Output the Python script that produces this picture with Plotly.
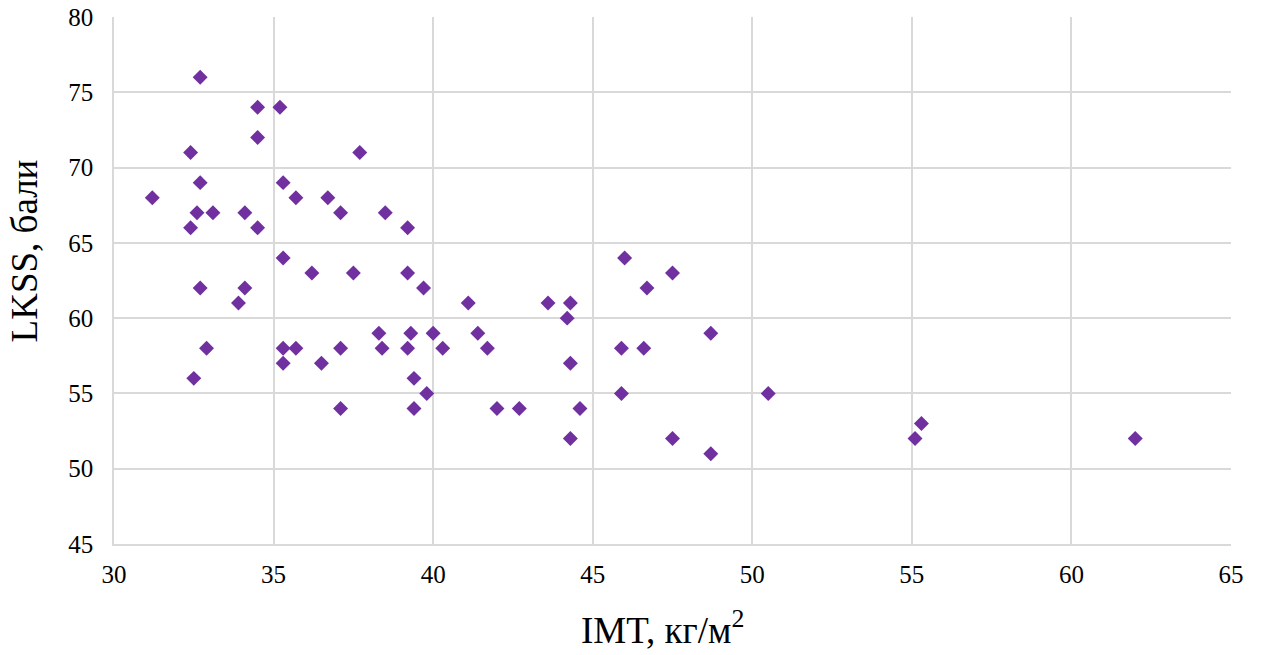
import plotly.graph_objects as go

# Body mass index (kg/m^2) and LKSS score for each patient
imt = [
    31.2, 32.4, 32.4, 32.6, 32.7, 32.7, 32.7, 32.5, 32.9, 33.1,
    33.9, 34.1, 34.1, 34.5, 34.5, 34.5, 35.2, 35.3, 35.3, 35.3,
    35.3, 35.7, 35.7, 36.2, 36.5, 36.7, 37.1, 37.1, 37.1, 37.5,
    37.7, 38.3, 38.4, 38.5, 39.2, 39.2, 39.2, 39.3, 39.4, 39.4,
    39.7, 39.8, 40.0, 40.3, 41.1, 41.4, 41.7, 42.0, 42.7, 43.6,
    44.3, 44.2, 44.3, 44.3, 44.6, 45.9, 45.9, 46.0, 46.6, 46.7,
    47.5, 47.5, 48.7, 48.7, 50.5, 55.1, 55.3, 62.0,
]
lkss = [
    68, 71, 66, 67, 76, 69, 62, 56, 58, 67,
    61, 67, 62, 74, 72, 66, 74, 69, 64, 58,
    57, 58, 68, 63, 57, 68, 67, 58, 54, 63,
    71, 59, 58, 67, 66, 63, 58, 59, 56, 54,
    62, 55, 59, 58, 61, 59, 58, 54, 54, 61,
    61, 60, 57, 52, 54, 58, 55, 64, 58, 62,
    63, 52, 59, 51, 55, 52, 53, 52,
]

x_ticks = [30, 35, 40, 45, 50, 55, 60, 65]
y_ticks = [45, 50, 55, 60, 65, 70, 75, 80]

FONT = "'Liberation Serif', 'Times New Roman', serif"
GRID = "#d9d9d9"

fig = go.Figure(
    go.Scatter(
        x=imt,
        y=lkss,
        mode="markers",
        marker=dict(symbol="diamond", size=11.5, color="#7030A0", line=dict(width=0)),
        hoverinfo="x+y",
    )
)

axis_style = dict(
    showgrid=True,
    gridcolor=GRID,
    gridwidth=1.5,
    showline=True,
    linecolor=GRID,
    linewidth=1.5,
    zeroline=False,
    ticks="",
    automargin=False,
    tickfont=dict(family=FONT, size=25, color="#000000"),
)

fig.update_layout(
    width=1261,
    height=655,
    margin=dict(l=114, r=30, t=17, b=111, autoexpand=False),
    paper_bgcolor="white",
    plot_bgcolor="white",
    showlegend=False,
    font=dict(family=FONT, size=25, color="#000000"),
    xaxis=dict(
        range=[30, 65],
        tickvals=x_ticks,
        ticktext=[str(v) for v in x_ticks],
        ticklabelstandoff=7,
        **axis_style,
    ),
    yaxis=dict(
        range=[45, 80],
        tickvals=y_ticks,
        ticktext=[str(v) for v in y_ticks],
        ticklabelstandoff=14,
        **axis_style,
    ),
    annotations=[
        dict(
            text="IMT, кг/м<sup>2</sup>",
            xref="paper", yref="paper",
            x=0.491, y=-0.158,
            xanchor="center", yanchor="middle",
            showarrow=False,
            font=dict(family=FONT, size=37, color="#000000"),
        ),
        dict(
            text="LKSS, бали",
            xref="paper", yref="paper",
            x=-0.0793, y=0.556,
            xanchor="center", yanchor="middle",
            textangle=-90,
            showarrow=False,
            font=dict(family=FONT, size=37, color="#000000"),
        ),
    ],
)

fig.write_html("out.html")
